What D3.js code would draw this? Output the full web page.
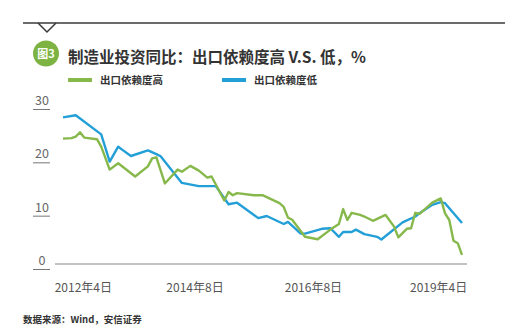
<!DOCTYPE html>
<html><head><meta charset="utf-8">
<script src="https://cdn.jsdelivr.net/npm/d3@7"></script>
<style>body{margin:0;background:#fff}svg{display:block}</style>
</head><body><div id="c"></div>
<script>
const seriesNames = ["出口依赖度高", "出口依赖度低"];
// month index (0 = first observation) and values, %
const highIdx = [0,2,3,4,5,8,9,11,13,17,20,21,22,24,27,28,30,32,34,35,38,39,40,41,45,47,51,52,53,54,57,60,63,65,66,67,68,70,71,73,76,78,79,81,82,83,84,87,89,90,91,92,93,94];
const highVal = [23.5,23.6,23.9,24.7,23.7,23.4,22.0,17.7,18.9,16.4,18.3,19.8,20.0,15.1,17.7,17.3,18.4,17.5,16.2,16.4,11.9,13.5,12.9,13.3,12.9,12.9,11.4,10.7,8.7,8.3,5.1,4.65,6.45,7.5,10.3,8.25,9.6,9.2,8.9,8.1,9.2,7.0,5.0,6.6,6.7,9.6,9.4,11.5,12.3,9.5,8.25,4.35,3.9,1.7];
const lowIdx = [0,3,9,11,13,14,16,20,22,23,25,28,32,36,39,41,46,48,52,53,56,57,61,63,65,66,68,69,71,74,75,80,83,84,87,89,90,94];
const lowVal = [27.5,27.9,24.3,19.2,22.0,21.4,20.25,21.3,20.6,20.2,18.2,15.2,14.6,14.6,11.2,11.5,8.6,9.0,7.5,7.9,5.7,5.7,6.6,6.7,5.1,6.0,6.0,6.45,5.6,5.1,4.6,7.8,8.9,9.5,11.1,11.6,11.4,7.7];
const yTicks = [0, 10, 20, 30];
const xTickLabels = ["2012年4日", "2014年8日", "2016年8日", "2019年4日"];
const xTickIdx = [4.8, 31.1, 59.0, 88.5];

const W = 518, H = 329;
const green = "#87b84b", blue = "#239fd8";
const svg = d3.select("#c").append("svg").attr("width", W).attr("height", H);
const font = "'Noto Sans CJK SC','Noto Sans',sans-serif";

// header rule with notch
svg.append("line").attr("x1",23).attr("x2",505).attr("y1",23).attr("y2",23).attr("stroke","#3a3a3a").attr("stroke-width",1.3);
svg.append("polyline").attr("points","38,23 47,32 56,23").attr("fill","none").attr("stroke","#3a3a3a").attr("stroke-width",1.5);

// title badge
svg.append("circle").attr("cx",46).attr("cy",53.5).attr("r",13).attr("fill","#7cb342");
svg.append("text").attr("x",46).attr("y",57.5).attr("text-anchor","middle").attr("fill","#fff")
  .attr("font-family",font).attr("font-size",11).attr("font-weight","bold").text("图3");
svg.append("text").attr("x",68).attr("y",62.5).attr("fill","#333").attr("font-family",font)
  .attr("font-size",15.5).attr("font-weight","bold").text("制造业投资同比：出口依赖度高 V.S. 低，%");

// legend
const leg = [{x:68, c:green, t:seriesNames[0]}, {x:222, c:blue, t:seriesNames[1]}];
leg.forEach(l => {
  svg.append("line").attr("x1",l.x).attr("x2",l.x+24).attr("y1",80).attr("y2",80).attr("stroke",l.c).attr("stroke-width",4);
  svg.append("text").attr("x",l.x+32).attr("y",84).attr("fill","#333").attr("font-family",font)
    .attr("font-size",10.5).attr("font-weight","bold").text(l.t);
});

const x = d3.scaleLinear().domain([0, 94]).range([63, 462]);
const y = d3.scaleLinear().domain([0, 30]).range([264, 104]);

// y tick labels with underline
yTicks.forEach(v => {
  svg.append("text").attr("x",42).attr("y",y(v)+1).attr("text-anchor","middle").attr("fill","#666")
    .attr("font-family",font).attr("font-size",12.5).text(v);
  svg.append("line").attr("x1",33).attr("x2",50).attr("y1",y(v)+5.5).attr("y2",y(v)+5.5).attr("stroke","#777").attr("stroke-width",1);
});

// baseline
svg.append("line").attr("x1",55).attr("x2",467).attr("y1",y(0)).attr("y2",y(0)).attr("stroke","#888").attr("stroke-width",1.2);

// x labels
xTickLabels.forEach((t,i) => {
  svg.append("text").attr("x",x(xTickIdx[i])).attr("y",292).attr("text-anchor","middle").attr("fill","#555")
    .attr("font-family",font).attr("font-size",12).text(t);
});

const line = d3.line().x(d => x(d[0])).y(d => y(d[1]));
const high = highIdx.map((d,i) => [d, highVal[i]]);
const low = lowIdx.map((d,i) => [d, lowVal[i]]);
svg.append("path").datum(low).attr("d", line).attr("fill","none").attr("stroke",blue).attr("stroke-width",2.4).attr("stroke-linejoin","round");
svg.append("path").datum(high).attr("d", line).attr("fill","none").attr("stroke",green).attr("stroke-width",2.4).attr("stroke-linejoin","round");

// source
svg.append("text").attr("x",23).attr("y",323).attr("fill","#333").attr("font-family",font)
  .attr("font-size",9.5).attr("font-weight","bold").text("数据来源：Wind，安信证券");
</script></body></html>
